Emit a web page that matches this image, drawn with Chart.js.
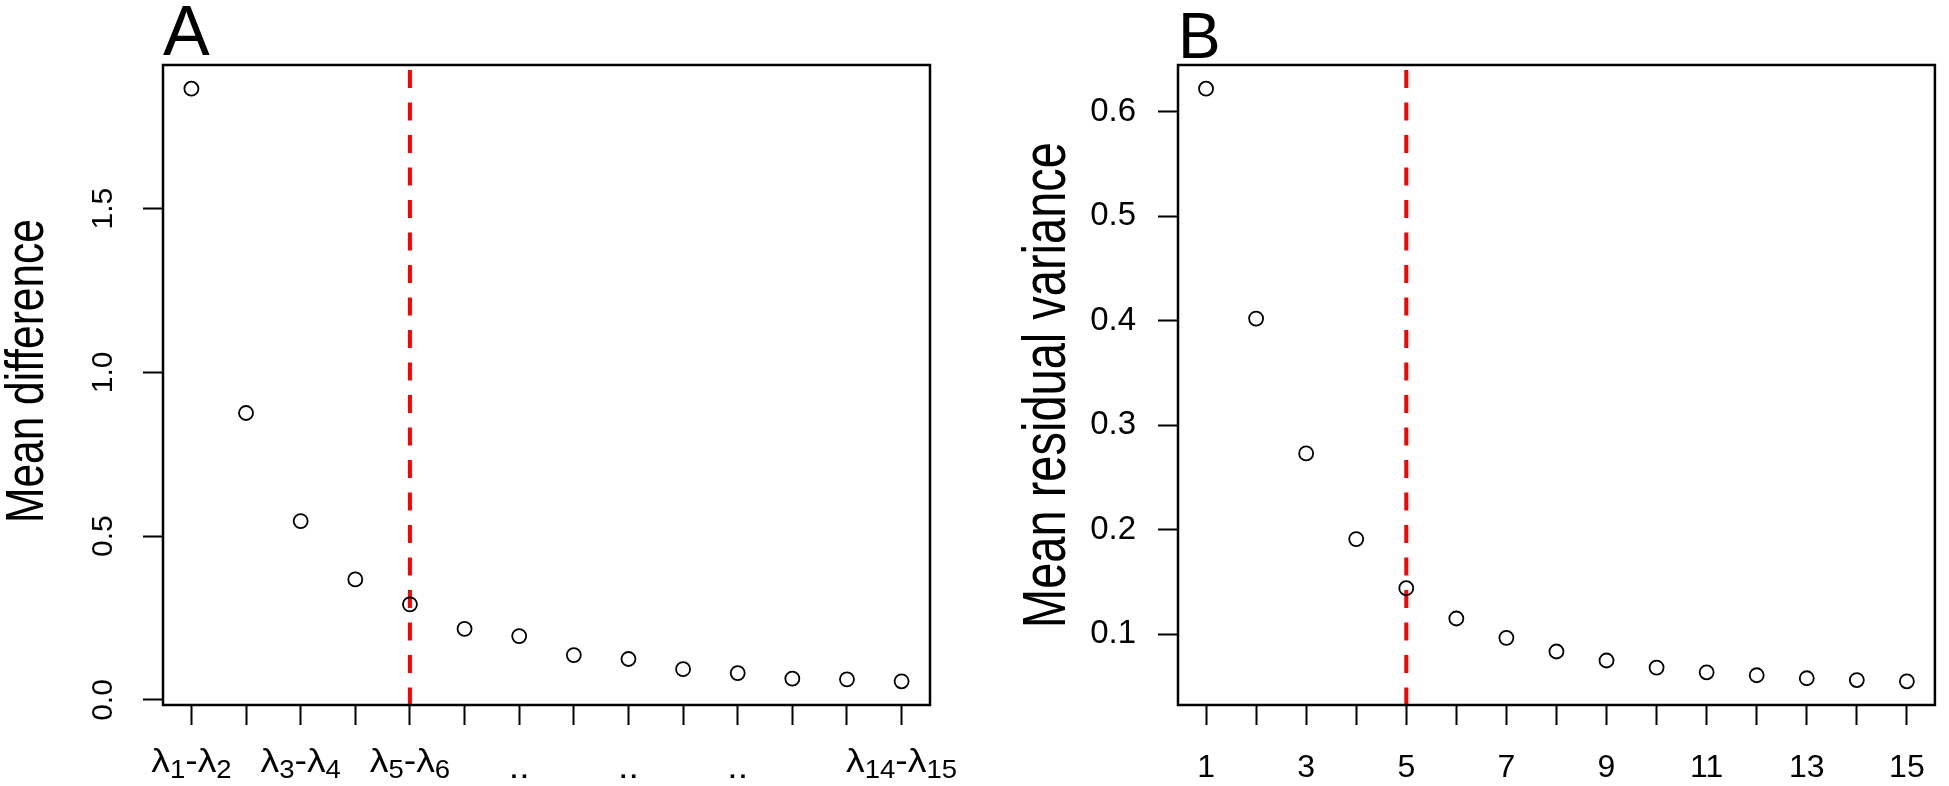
<!DOCTYPE html>
<html>
<head>
<meta charset="utf-8">
<title>Scree plots</title>
<style>
  body { margin: 0; background: #fff; }
  .panel { position: absolute; top: 0; height: 786px; }
  #wrapA { left: 0; width: 975px; }
  #wrapB { left: 975px; width: 974px; }
</style>
</head>
<body>
<div id="wrapA" class="panel"><canvas id="chartA"></canvas></div>
<div id="wrapB" class="panel"><canvas id="chartB"></canvas></div>

<script src="https://cdn.jsdelivr.net/npm/chart.js@4.4.1/dist/chart.umd.min.js"></script>
<script>
// panel A: mean difference between successive eigenvalues
var pairIndex = [1,2,3,4,5,6,7,8,9,10,11,12,13,14];
// "_{n}" marks a subscript
var pairLabels = ['λ_{1}-λ_{2}','','λ_{3}-λ_{4}','','λ_{5}-λ_{6}','','..','','..','','..','','','λ_{14}-λ_{15}'];
var meanDiff = [1.866,0.876,0.546,0.368,0.292,0.217,0.195,0.137,0.125,0.094,0.082,0.065,0.063,0.057];
var yTicksA = [0, 0.5, 1.0, 1.5];

// panel B: mean residual variance per number of factors
var factorIndex = [1,2,3,4,5,6,7,8,9,10,11,12,13,14,15];
var residVar = [0.622,0.402,0.273,0.191,0.144,0.115,0.0965,0.0834,0.0748,0.068,0.0635,0.0607,0.0578,0.0561,0.0549];
var yTicksB = [0.1, 0.2, 0.3, 0.4, 0.5, 0.6];
var xLabelB = ['1','','3','','5','','7','','9','','11','','13','','15'];

var cutoff = 5;
var FONT = '"Liberation Sans", Arial, "DejaVu Sans", sans-serif';

// R style axis limits: data range stretched by 4% on each side
function rlim(v) {
  var lo = Math.min.apply(null, v), hi = Math.max.apply(null, v);
  var d = (hi - lo) * 0.04;
  return [lo - d, hi + d];
}

// draw "λ_{1}-λ_{2}" with real subscripts, centred on cx
function mathLabel(ctx, str, cx, baseY, size, sx) {
  var parts = [], re = /_\{([^}]*)\}|[^_]+/g, m;
  while ((m = re.exec(str)) !== null) {
    parts.push(m[1] !== undefined ? {t: m[1], sub: true} : {t: m[0], sub: false});
  }
  var subSize = Math.round(size * 0.74), total = 0;
  parts.forEach(function(p) {
    ctx.font = (p.sub ? subSize : size) + 'px ' + FONT;
    p.w = ctx.measureText(p.t).width;
    total += p.w;
  });
  ctx.save();
  ctx.translate(cx, baseY);
  ctx.scale(sx, 1);
  var x = -total / 2;
  parts.forEach(function(p) {
    ctx.font = (p.sub ? subSize : size) + 'px ' + FONT;
    ctx.fillText(p.t, x, p.sub ? 6 : 0);
    x += p.w;
  });
  ctx.restore();
}

var boxPlugin = {
  id: 'box',
  afterDraw: function(chart) {
    var a = chart.chartArea, ctx = chart.ctx, o = chart.options.plugins.box;
    ctx.save();
    ctx.strokeStyle = '#000';
    ctx.lineWidth = 2.5;
    ctx.strokeRect(a.left, a.top, a.right - a.left, a.bottom - a.top);
    ctx.fillStyle = '#000';
    ctx.textBaseline = 'alphabetic';

    // panel letter
    ctx.textAlign = 'left';
    ctx.font = o.letterSize + 'px ' + FONT;
    ctx.fillText(o.letter, a.left, o.letterBase);

    // y axis title, rotated, a little heavier across like the R device
    ctx.save();
    ctx.translate(o.titleBase, o.titleMid);
    ctx.rotate(-Math.PI / 2);
    ctx.scale(1, o.titleStretch);
    ctx.textAlign = 'center';
    ctx.font = o.titleSize + 'px ' + FONT;
    ctx.fillText(o.title, 0, 0);
    ctx.restore();

    // expression tick labels
    if (o.mathLabels) {
      var sx = chart.scales.x;
      o.mathLabels.forEach(function(lab, i) {
        if (!lab) return;
        var px = sx.getPixelForValue(o.mathX[i]);
        var sub = lab.indexOf('_') >= 0;
        mathLabel(ctx, lab, px, sub ? 772 : 778, 34, 1.1);
      });
    }
    ctx.restore();
  }
};

function makeChart(id, o) {
  var ylim = rlim(o.y);
  var xlim = rlim(o.x);
  var pts = o.x.map(function(x, i) { return {x: x, y: o.y[i]}; });
  return new Chart(document.getElementById(id), {
    type: 'scatter',
    data: {
      datasets: [{
        data: pts,
        pointStyle: 'circle',
        pointRadius: 7,
        pointHoverRadius: 7,
        borderWidth: 1.8,
        borderColor: '#000',
        backgroundColor: 'rgba(0,0,0,0)'
      }, {
        type: 'line',
        data: [{x: cutoff, y: ylim[1]}, {x: cutoff, y: ylim[0]}],
        borderColor: '#ff0000',
        borderWidth: 4,
        borderDash: [18, 14.5],
        borderDashOffset: 27.5,
        pointRadius: 0,
        fill: false
      }]
    },
    options: {
      responsive: true,
      maintainAspectRatio: false,
      animation: false,
      events: [],
      layout: { padding: { left: 0, top: 65, right: o.padRight, bottom: 0 } },
      plugins: {
        legend: { display: false },
        tooltip: { enabled: false },
        box: o.deco
      },
      scales: {
        x: {
          type: 'linear',
          min: xlim[0], max: xlim[1],
          afterBuildTicks: function(s) { s.ticks = o.x.map(function(v) { return {value: v}; }); },
          afterFit: function(s) { s.height = 81; },
          border: { display: false },
          grid: { drawOnChartArea: false, drawTicks: true, tickLength: 20, tickWidth: 2, tickColor: '#000' },
          ticks: {
            display: !!o.xLabels,
            autoSkip: false, minRotation: 0, maxRotation: 0,
            padding: 24, color: '#000',
            font: { family: FONT, size: 32 },
            callback: function(v, i) { return o.xLabels ? o.xLabels[i] : ''; }
          }
        },
        y: {
          type: 'linear',
          min: ylim[0], max: ylim[1],
          afterBuildTicks: function(s) { s.ticks = o.yTicks.map(function(v) { return {value: v}; }); },
          afterFit: function(s) { s.width = o.yWidth; },
          border: { display: false },
          grid: { drawOnChartArea: false, drawTicks: true, tickLength: 20, tickWidth: 2, tickColor: '#000' },
          ticks: {
            autoSkip: false, color: '#000',
            minRotation: o.yRot, maxRotation: o.yRot,
            crossAlign: o.yRot ? 'center' : 'near',
            padding: o.yPad,
            font: { family: FONT, size: o.yFont },
            callback: function(v) { return v.toFixed(1); }
          }
        }
      }
    },
    plugins: [boxPlugin]
  });
}

makeChart('chartA', {
  x: pairIndex, y: meanDiff, xLabels: null, yTicks: yTicksA,
  padRight: 45, yWidth: 163, yFont: 30, yPad: 18, yRot: 90,
  deco: {
    letter: 'A', letterSize: 70, letterBase: 55,
    title: 'Mean difference', titleSize: 42.5, titleStretch: 1.28, titleBase: 43, titleMid: 371,
    mathLabels: pairLabels, mathX: pairIndex
  }
});

makeChart('chartB', {
  x: factorIndex, y: residVar, xLabels: xLabelB, yTicks: yTicksB,
  padRight: 3, yWidth: 203, yFont: 33, yPad: 22, yRot: 0,
  deco: {
    letter: 'B', letterSize: 64, letterBase: 58,
    title: 'Mean residual variance', titleSize: 47, titleStretch: 1.3, titleBase: 90, titleMid: 385
  }
});
</script>
</body>
</html>
